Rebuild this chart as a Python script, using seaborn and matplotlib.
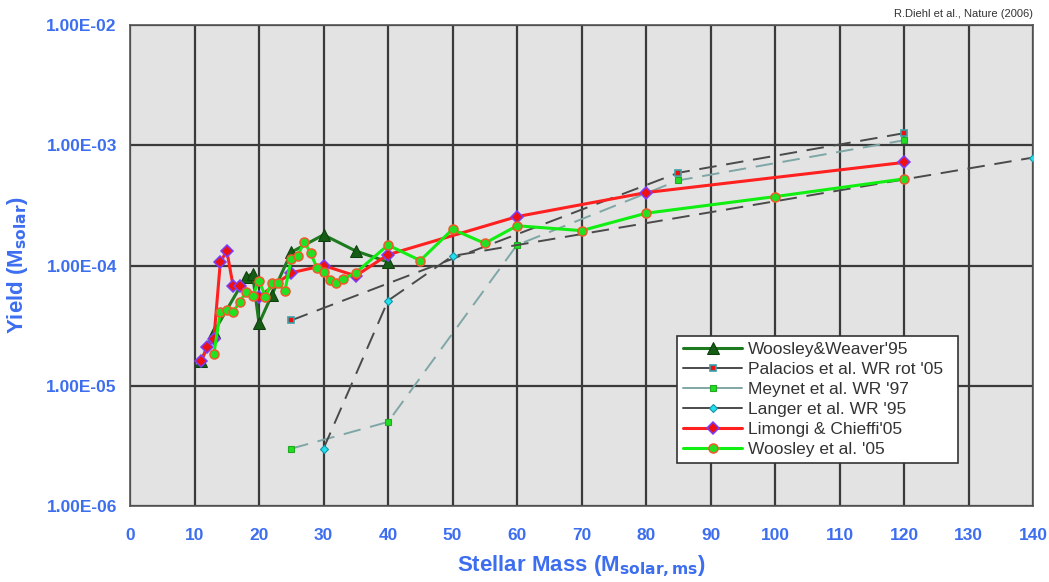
import matplotlib
matplotlib.use("Agg")
import matplotlib.pyplot as plt
import matplotlib.ticker as mticker
import seaborn as sns
import numpy as np
import pandas as pd

# ---------------- data ----------------
ww95_m = [11, 13, 18, 19, 20, 22, 25, 30, 35, 40]
ww95_y = [1.6e-5, 2.8e-5, 8.1e-5, 8.5e-5, 3.3e-5, 5.7e-5, 1.29e-4, 1.8e-4, 1.32e-4, 1.07e-4]

pal_m = [25, 85, 120]
pal_y = [3.5e-5, 5.9e-4, 1.26e-3]

mey_m = [25, 40, 60, 85, 120]
mey_y = [3.0e-6, 5.0e-6, 1.48e-4, 5.1e-4, 1.1e-3]

lan_m = [30, 40, 50, 140]
lan_y = [3.0e-6, 5.1e-5, 1.2e-4, 7.9e-4]

lc_m = [11, 12, 13, 14, 15, 16, 17, 20, 25, 30, 35, 40, 60, 80, 120]
lc_y = [1.6e-5, 2.1e-5, 2.45e-5, 1.06e-4, 1.33e-4, 6.7e-5, 6.8e-5, 5.5e-5,
        8.7e-5, 1.0e-4, 8.2e-5, 1.23e-4, 2.55e-4, 4.04e-4, 7.2e-4]

w05_m = [13, 14, 15, 16, 17, 18, 19, 20, 21, 22, 23, 24, 25, 26, 27, 28, 29,
         30, 31, 32, 33, 35, 40, 45, 50, 55, 60, 70, 80, 100, 120]
w05_y = [1.84e-5, 4.1e-5, 4.3e-5, 4.1e-5, 5.0e-5, 6.0e-5, 5.6e-5, 7.5e-5,
         5.5e-5, 7.2e-5, 7.1e-5, 6.1e-5, 1.13e-4, 1.2e-4, 1.58e-4, 1.27e-4,
         9.5e-5, 8.9e-5, 7.6e-5, 7.2e-5, 7.7e-5, 8.7e-5, 1.48e-4, 1.1e-4,
         2.0e-4, 1.53e-4, 2.14e-4, 1.95e-4, 2.72e-4, 3.74e-4, 5.25e-4]

labels = ["Woosley&Weaver'95", "Palacios et al. WR rot '05", "Meynet et al. WR '97",
          "Langer et al. WR '95", "Limongi & Chieffi'05", "Woosley et al. '05"]

x_ticks = list(range(0, 150, 10))
y_ticks = [1e-6, 1e-5, 1e-4, 1e-3, 1e-2]
y_ticklabels = ["1.00E-06", "1.00E-05", "1.00E-04", "1.00E-03", "1.00E-02"]

# ---------------- style ----------------
sns.set_style("white")
plt.rcParams["font.family"] = ["Liberation Sans", "DejaVu Sans"]
blue = "#3d6ef0"

fig = plt.figure(figsize=(10.49, 5.82), dpi=100)
ax = fig.add_axes([130 / 1049, 1 - 506 / 582, 903 / 1049, 481 / 582])
ax.set_facecolor("#e3e3e3")

dash = (0, (9, 5))

sns.lineplot(x=pal_m, y=pal_y, ax=ax, color="#4a4a4a", linewidth=1.4,
             linestyle=dash, marker="s", markersize=5,
             markerfacecolor="#ee1111", markeredgecolor="#3aa0a8",
             markeredgewidth=1.2, label=labels[1], zorder=3)
sns.lineplot(x=mey_m, y=mey_y, ax=ax, color="#7fa6a6", linewidth=1.4,
             linestyle=dash, marker="s", markersize=5,
             markerfacecolor="#22dd22", markeredgecolor="#22aa22",
             markeredgewidth=0.8, label=labels[2], zorder=3)
sns.lineplot(x=lan_m, y=lan_y, ax=ax, color="#4a4a4a", linewidth=1.4,
             linestyle=dash, marker="D", markersize=4.5,
             markerfacecolor="#22e0f0", markeredgecolor="#1595a5",
             markeredgewidth=0.8, label=labels[3], zorder=3)
sns.lineplot(x=ww95_m, y=ww95_y, ax=ax, color="#1e7a1e", linewidth=2.2,
             marker="^", markersize=8, markerfacecolor="#155c15",
             markeredgecolor="#0d400d", label=labels[0], zorder=4)
sns.lineplot(x=lc_m, y=lc_y, ax=ax, color="#ff2020", linewidth=2.2,
             marker="D", markersize=6, markerfacecolor="#ee1111",
             markeredgecolor="#7a3cff", markeredgewidth=1.1,
             label=labels[4], zorder=5)
sns.lineplot(x=w05_m, y=w05_y, ax=ax, color="#11ee11", linewidth=2.2,
             marker="o", markersize=6.5, markerfacecolor="#22e022",
             markeredgecolor="#f05a2a", markeredgewidth=1.1,
             label=labels[5], zorder=6)

ax.set_yscale("log")
ax.set_xlim(0, 140)
ax.set_ylim(1e-6, 1e-2)
ax.set_xticks(x_ticks)
ax.set_xticklabels([str(t) for t in x_ticks])
ax.set_yticks(y_ticks)
ax.set_yticklabels(y_ticklabels)
ax.xaxis.set_minor_locator(mticker.MultipleLocator(2))
ax.yaxis.set_minor_locator(mticker.LogLocator(base=10, subs=np.arange(2, 10)))
ax.yaxis.set_minor_formatter(mticker.NullFormatter())

ax.grid(True, which="major", color="#3a3a3a", linewidth=1.6)
ax.set_axisbelow(True)
for s in ax.spines.values():
    s.set_color("#555555")
    s.set_linewidth(1.2)

ax.tick_params(axis="both", which="major", direction="inout", length=7,
               width=1.0, color="#333333", labelcolor=blue, labelsize=12.5,
               pad=6)
ax.tick_params(axis="both", which="minor", direction="in", length=3,
               width=0.8, color="#555555")
for lbl in ax.get_xticklabels() + ax.get_yticklabels():
    lbl.set_fontweight("bold")
ax.tick_params(axis="x", which="major", pad=12)

ax.set_xlabel("Stellar Mass (M$_{\\mathbf{solar,ms}}$)", color=blue,
              fontsize=16, fontweight="bold", labelpad=8)
ax.set_ylabel("Yield (M$_{\\mathbf{solar}}$)", color=blue, fontsize=16,
              fontweight="bold", labelpad=12)

handles, labs = ax.get_legend_handles_labels()
order = [labs.index(l) for l in labels]
leg = ax.legend([handles[i] for i in order], [labs[i] for i in order],
                loc="lower left", bbox_to_anchor=(0.606, 0.089, 0.311, 0.314),
                mode="expand", borderaxespad=0, frameon=True, fancybox=False,
                fontsize=12.5, handlelength=3.4, labelspacing=0.28,
                borderpad=0.35, handletextpad=0.3)
leg.get_frame().set_edgecolor("#333333")
leg.get_frame().set_linewidth(1.2)
leg.get_frame().set_facecolor("white")
leg.get_frame().set_alpha(1)
for t in leg.get_texts():
    t.set_color("#333333")
for ln in leg.get_lines():
    ln.set_linestyle("-")
leg.set_zorder(10)

fig.text(1033 / 1049, 1 - 14 / 582, "R.Diehl et al., Nature (2006)",
         ha="right", va="center", fontsize=8, color="#333333")

fig.savefig("out.png", dpi=100, facecolor="white")
